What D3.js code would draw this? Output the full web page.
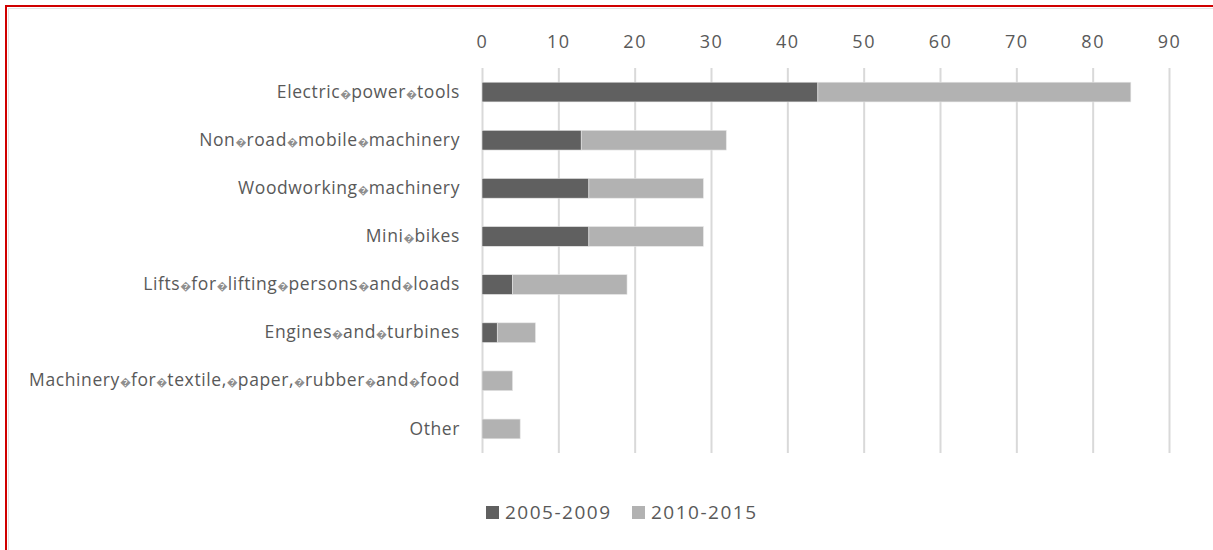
<!DOCTYPE html>
<html>
<head>
<meta charset="utf-8">
<script src="https://cdn.jsdelivr.net/npm/d3@7"></script>
<style>
  html, body { margin: 0; padding: 0; background: #ffffff; }
  svg { display: block; }
  text { font-family: "Open Sans", "Noto Sans", sans-serif; fill: #595959; }
</style>
</head>
<body>
<svg id="chart" width="1213" height="550"></svg>
<script>
const R = "\uFFFD";
const categories = [
  "Electric" + R + "power" + R + "tools",
  "Non" + R + "road" + R + "mobile" + R + "machinery",
  "Woodworking" + R + "machinery",
  "Mini" + R + "bikes",
  "Lifts" + R + "for" + R + "lifting" + R + "persons" + R + "and" + R + "loads",
  "Engines" + R + "and" + R + "turbines",
  "Machinery" + R + "for" + R + "textile," + R + "paper," + R + "rubber" + R + "and" + R + "food",
  "Other"
];
const seriesNames = ["2005-2009", "2010-2015"];
const values2005_2009 = [44, 13, 14, 14, 4, 2, 0, 0];
const values2010_2015 = [41, 19, 15, 15, 15, 5, 4, 5];
const tickValues = [0, 10, 20, 30, 40, 50, 60, 70, 80, 90];
const colors = ["#606060", "#b2b2b2"];

const svg = d3.select("#chart");

// frame
svg.append("line").attr("x1", 5).attr("x2", 1213).attr("y1", 6).attr("y2", 6)
  .attr("stroke", "#d00000").attr("stroke-width", 2);
svg.append("line").attr("x1", 6).attr("x2", 6).attr("y1", 5).attr("y2", 550)
  .attr("stroke", "#d00000").attr("stroke-width", 2);
svg.append("line").attr("x1", 8).attr("x2", 1213).attr("y1", 8.5).attr("y2", 8.5)
  .attr("stroke", "#e4e4e4").attr("stroke-width", 1);
svg.append("line").attr("x1", 8.5).attr("x2", 8.5).attr("y1", 8).attr("y2", 550)
  .attr("stroke", "#e4e4e4").attr("stroke-width", 1);

const x = d3.scaleLinear().domain([0, 90]).range([482, 1169]);
const y = d3.scaleBand().domain(categories).range([68, 453])
  .paddingInner(0.59).paddingOuter(0.295);

// gridlines
const grid = svg.append("g").attr("transform", "translate(0,68)")
  .call(d3.axisBottom(x).tickValues(tickValues).tickSize(385).tickFormat(""));
grid.select(".domain").remove();
grid.selectAll("line").attr("stroke", "#d9d9d9").attr("stroke-width", 2);

// top tick labels
const topAxis = svg.append("g").attr("transform", "translate(0,48)")
  .call(d3.axisTop(x).tickValues(tickValues).tickSize(0).tickPadding(0));
topAxis.select(".domain").remove();
topAxis.selectAll("text").attr("font-size", 18).attr("letter-spacing", "1.5px")
  .attr("fill", "#595959").attr("font-family", "Open Sans, sans-serif").attr("dy", 0);

// stacked bars
const rows = categories.map((c, i) => ({ cat: c, a: values2005_2009[i], b: values2010_2015[i] }));
const stack = d3.stack().keys(["a", "b"])(rows);
svg.append("g").selectAll("g").data(stack).join("g")
  .attr("fill", (d, i) => colors[i])
  .selectAll("rect").data(d => d).join("rect")
  .attr("x", d => x(d[0]))
  .attr("y", d => y(d.data.cat))
  .attr("width", d => Math.max(0, x(d[1]) - x(d[0])))
  .attr("height", y.bandwidth())
  .attr("stroke", "#e6e6e6").attr("stroke-width", 0.6);

// category labels
const leftAxis = svg.append("g").attr("transform", "translate(460,0)")
  .call(d3.axisLeft(y).tickSize(0).tickPadding(0));
leftAxis.select(".domain").remove();
leftAxis.selectAll("text").attr("font-size", 17.5).attr("letter-spacing", "0.6px")
  .attr("fill", "#595959").attr("font-family", "Open Sans, sans-serif")
  .each(function(d) {
    const t = d3.select(this);
    t.text(null);
    const parts = d.split(R);
    parts.forEach((p, i) => {
      if (i > 0) {
        t.append("tspan").attr("font-size", 11).attr("fill", "#8f8f8f")
          .attr("letter-spacing", "0px").text(R);
      }
      t.append("tspan").text(p);
    });
  });

// legend
const legendX = [486, 632];
const lg = svg.append("g");
seriesNames.forEach((s, i) => {
  lg.append("rect").attr("x", legendX[i]).attr("y", 506).attr("width", 13).attr("height", 13)
    .attr("fill", colors[i]);
  lg.append("text").attr("x", legendX[i] + 19).attr("y", 512).attr("dy", "0.35em")
    .attr("font-size", 19).attr("letter-spacing", "1.5px").text(s);
});
</script>
</body>
</html>
